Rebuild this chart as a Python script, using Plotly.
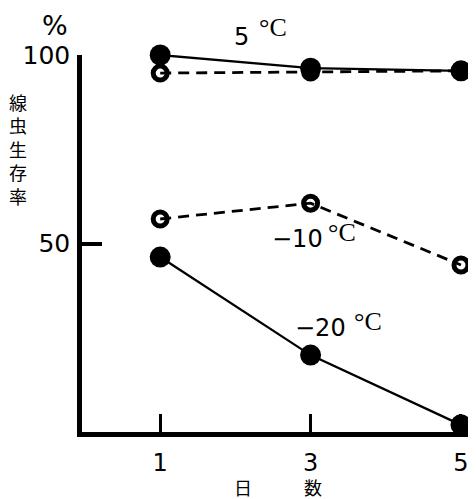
import plotly.graph_objects as go

days = [1, 3, 5]
survival_5c_a = [100, 96.5, 95.8]     # filled, solid
survival_5c_b = [95.2, 95.5, 95.8]    # open, dashed
survival_m10c = [56.5, 60.7, 44.3]    # open, dashed
survival_m20c = [46.4, 20.4, 1.9]     # filled, solid

y_tick_vals = [50, 100]
y_tick_text = ["50", "100"]
x_tick_vals = [1, 3, 5]
x_tick_text = ["1", "3", "5"]
y_title_chars = ["線", "虫", "生", "存", "率"]

fig = go.Figure()

open_marker = dict(symbol="circle-open", size=14, color="black", line=dict(width=5, color="black"))
filled_marker = dict(symbol="circle", size=21, color="black")

fig.add_trace(go.Scatter(x=days, y=survival_5c_b, mode="lines+markers",
                         line=dict(color="black", width=2.8, dash="11px,7px"),
                         marker=open_marker, cliponaxis=False, showlegend=False))
fig.add_trace(go.Scatter(x=days, y=survival_5c_a, mode="lines+markers",
                         line=dict(color="black", width=2.3),
                         marker=filled_marker, cliponaxis=False, showlegend=False))
fig.add_trace(go.Scatter(x=days, y=survival_m10c, mode="lines+markers",
                         line=dict(color="black", width=2.8, dash="11px,7px"),
                         marker=open_marker, cliponaxis=False, showlegend=False))
fig.add_trace(go.Scatter(x=days, y=survival_m20c, mode="lines+markers",
                         line=dict(color="black", width=2.3),
                         marker=filled_marker, cliponaxis=False, showlegend=False))

num_font = dict(family="DejaVu Sans", size=24, color="black")
deg_font = dict(family="Liberation Serif, Times New Roman", size=26, color="black")
cjk_font = dict(family="Noto Sans CJK JP", size=18, color="black")


def ann(x, y, text, font, ref="paper"):
    return dict(x=x, y=y, xref="paper" if ref == "paper" else "x",
                yref="paper" if ref == "paper" else "y", text=text, font=font,
                showarrow=False, xanchor="center", yanchor="middle")


annotations = [
    ann(0.412, 1.049, "5", num_font),
    ann(0.492, 1.074, "°C", deg_font),
    ann(2.82, 51.3, "−10", num_font, "data"),
    ann(3.42, 52.8, "°C", deg_font, "data"),
    ann(3.126, 27.6, "−20", num_font, "data"),
    ann(3.76, 29.2, "°C", deg_font, "data"),
    ann(0.415, -0.145, "日", cjk_font),
    ann(0.595, -0.145, "数", cjk_font),
    ann(-0.0696, 1.078, "%", dict(family="DejaVu Sans", size=27, color="black")),
    ann(-0.165, 0.751, "<br>".join(y_title_chars), cjk_font),
]

# page body has an 8px default margin; shrink the figure accordingly
fig.update_layout(
    width=468, height=491,
    margin=dict(l=74, r=6, t=47, b=67),
    plot_bgcolor="white", paper_bgcolor="white",
    annotations=annotations,
    xaxis=dict(range=[-0.04, 5.12], showgrid=False, zeroline=False, showline=True,
               linecolor="black", linewidth=4.5, ticks="inside", ticklen=18, tickwidth=2.5,
               tickcolor="black", tickvals=x_tick_vals, ticktext=x_tick_text,
               tickfont=dict(family="DejaVu Sans", size=24, color="black"),
               ticklabelstandoff=5),
    yaxis=dict(range=[0, 100], showgrid=False, zeroline=False, showline=True,
               linecolor="black", linewidth=4.5, ticks="inside", ticklen=20, tickwidth=3.5,
               tickcolor="black", tickvals=y_tick_vals, ticktext=y_tick_text,
               tickfont=dict(family="DejaVu Sans", size=25, color="black"),
               ticklabelstandoff=2),
)

fig.write_html("out.html")
